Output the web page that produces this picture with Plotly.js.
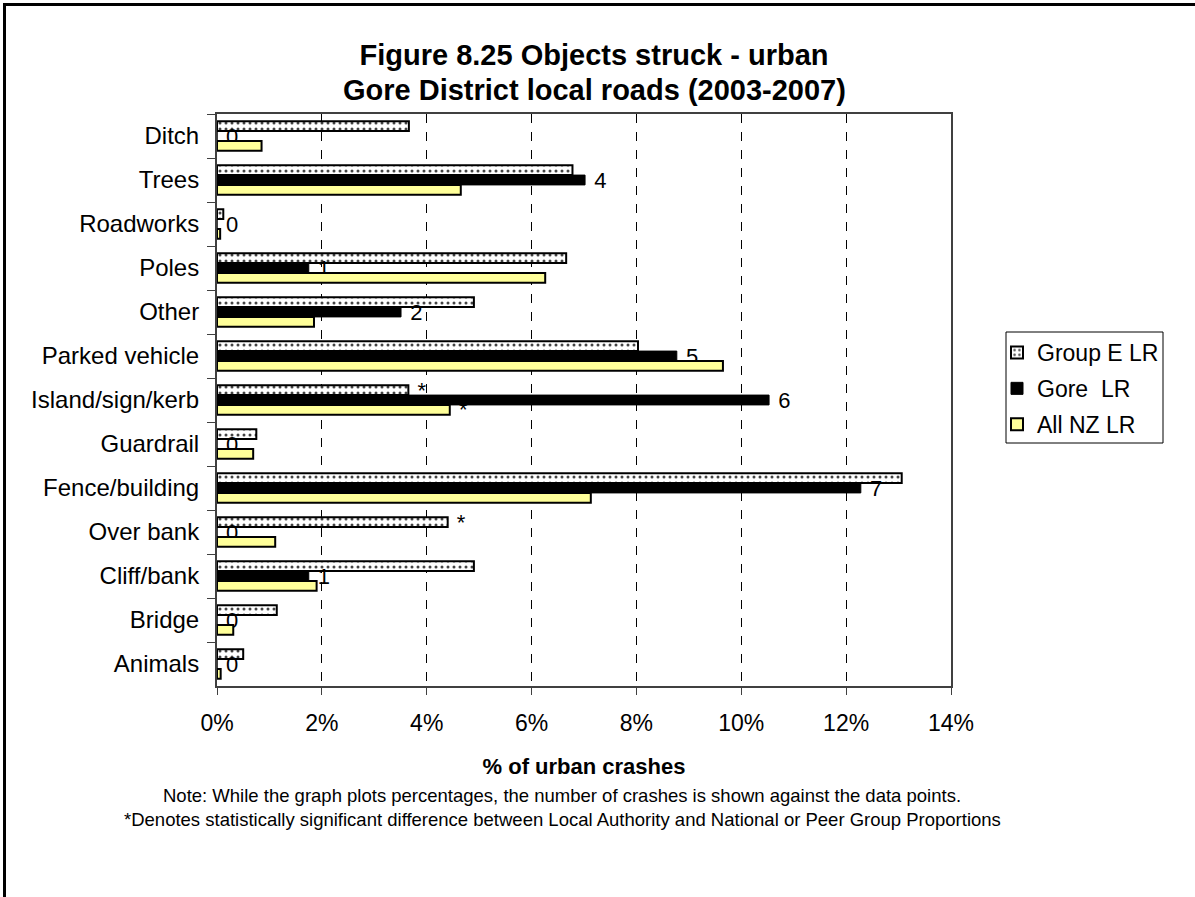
<!DOCTYPE html>
<html>
<head>
<meta charset="utf-8">
<script src="https://cdn.plot.ly/plotly-3.0.1.min.js"></script>
<style>
  html, body { margin: 0; padding: 0; background: #ffffff; }
  #chart { width: 1195px; height: 897px; }
</style>
</head>
<body>
<div id="chart"></div>
<script>
// ---- data ----
const categories = ['Ditch', 'Trees', 'Roadworks', 'Poles', 'Other', 'Parked vehicle',
  'Island/sign/kerb', 'Guardrail', 'Fence/building', 'Over bank', 'Cliff/bank', 'Bridge', 'Animals'];
const groupE = [3.66, 6.78, 0.12, 6.66, 4.90, 8.03, 3.65, 0.75, 13.06, 4.40, 4.90, 1.14, 0.50];
const gore   = [0, 7.02, 0, 1.75, 3.51, 8.77, 10.53, 0, 12.28, 0, 1.75, 0, 0];
const allNZ  = [0.85, 4.65, 0.06, 6.26, 1.85, 9.65, 4.44, 0.69, 7.13, 1.11, 1.90, 0.31, 0.07];
const goreCounts = [0, 4, 0, 1, 2, 5, 6, 0, 7, 0, 1, 0, 0];
const groupESig  = ['', '', '', '', '', '', '*', '', '', '*', '', '', ''];
const allNZSig   = ['', '', '', '', '', '', '*', '', '', '', '', '', ''];
const seriesNames = ['Group E LR', 'Gore\u00a0 LR', 'All NZ LR'];
const xTicks = [0, 2, 4, 6, 8, 10, 12, 14];
const titleLines = ['Figure 8.25 Objects struck - urban', 'Gore District local roads (2003-2007)'];
const xTitle = '% of urban crashes';
const notes = [
  'Note: While the graph plots percentages, the number of crashes is shown against the data points.',
  '*Denotes statistically significant difference between Local Authority and National or Peer Group Proportions'
];

const FONT = 'Liberation Sans, Arial, Helvetica, sans-serif';
const NB = '\u00a0';

const common = {
  type: 'bar', orientation: 'h', y: categories,
  textposition: 'outside', constraintext: 'none', cliponaxis: false,
  textfont: { family: FONT, size: 22, color: '#000' },
  hoverinfo: 'x+y+name'
};

const traces = [
  Object.assign({}, common, {
    name: seriesNames[0], legendgroup: 'g1', x: groupE,
    text: groupESig, texttemplate: NB + '%{text}',
    marker: {
      color: '#ffffff',
      line: { color: '#000000', width: 2 },
      pattern: { shape: '.', fgcolor: '#444444', bgcolor: '#ffffff', size: 6, solidity: 0.2, fillmode: 'replace' }
    }
  }),
  Object.assign({}, common, {
    name: seriesNames[1], legendgroup: 'g2', x: gore,
    text: goreCounts.map(String), texttemplate: NB + '%{text}',
    marker: { color: '#000000', line: { color: '#000000', width: 1 } }
  }),
  Object.assign({}, common, {
    name: seriesNames[2], legendgroup: 'g3', x: allNZ,
    text: allNZSig, texttemplate: NB + '%{text}',
    marker: { color: '#FFFF99', line: { color: '#000000', width: 2 } }
  })
];

// plot area in pixels (from reference)
const L = 217, R = 951, T = 114, B = 686, W = 1195, H = 897;
const px2x = p => (p - L) / (R - L);
const px2y = p => (B - p) / (B - T);

const annotations = [
  {
    text: '<b>' + titleLines[1] + '</b>', xref: 'paper', yref: 'paper',
    x: px2x(594), y: px2y(90), xanchor: 'center', yanchor: 'middle', showarrow: false,
    font: { family: FONT, size: 29, color: '#000' }
  }
].concat(notes.map((t, i) => ({
  text: t, xref: 'paper', yref: 'paper',
  x: px2x(562), y: px2y(795 + 24 * i), xanchor: 'center', yanchor: 'middle',
  showarrow: false, font: { family: FONT, size: 18.5, color: '#000' }
})));

const layout = {
  width: W, height: H,
  margin: { l: L, r: W - R, t: T, b: H - B, pad: 0 },
  paper_bgcolor: '#ffffff', plot_bgcolor: '#ffffff',
  font: { family: FONT, size: 22, color: '#000000' },
  title: {
    text: titleLines[0],
    font: { family: FONT, size: 29, weight: 'bold', color: '#000' },
    x: 594 / W, xanchor: 'center',
    y: 1 - 55 / H, yanchor: 'middle'
  },
  barmode: 'group', bargap: 0.33, bargroupgap: 0,
  showlegend: true,
  legend: {
    x: px2x(997), xanchor: 'left', y: px2y(331), yanchor: 'top',
    borderwidth: 0, bgcolor: 'rgba(0,0,0,0)',
    font: { family: FONT, size: 23, color: '#000' },
    traceorder: 'grouped', tracegroupgap: 3
  },
  xaxis: {
    range: [0, 14], tickvals: xTicks, ticktext: xTicks.map(v => v + '%'),
    ticks: 'outside', ticklen: 7, tickcolor: '#404040', tickwidth: 1,
    ticklabelstandoff: 8,
    tickfont: { family: FONT, size: 23, color: '#000' },
    showgrid: true, gridcolor: '#000000', gridwidth: 1, griddash: 'dash',
    zeroline: false,
    showline: true, linecolor: '#404040', linewidth: 2, mirror: true,
    title: { text: xTitle, font: { family: FONT, size: 22, weight: 'bold', color: '#000' }, standoff: 24 },
    fixedrange: true
  },
  yaxis: {
    type: 'category', autorange: 'reversed',
    ticks: 'outside', tickson: 'boundaries', ticklen: 8, tickcolor: '#404040', tickwidth: 1,
    ticklabelstandoff: 11,
    tickfont: { family: FONT, size: 24, color: '#000' },
    showgrid: false, zeroline: false,
    showline: true, linecolor: '#404040', linewidth: 2, mirror: true,
    fixedrange: true
  },
  annotations: annotations,
  shapes: [
    {
      type: 'rect', xref: 'paper', yref: 'paper',
      x0: px2x(4.5), x1: px2x(1260), y0: px2y(960), y1: px2y(4.5),
      line: { color: '#000000', width: 3 }, fillcolor: 'rgba(0,0,0,0)', layer: 'above'
    },
    {
      type: 'rect', xref: 'paper', yref: 'paper',
      x0: px2x(1006), x1: px2x(1163), y0: px2y(443), y1: px2y(332),
      line: { color: '#000000', width: 1 }, fillcolor: 'rgba(0,0,0,0)', layer: 'below'
    }
  ]
};

Plotly.newPlot('chart', traces, layout, { displayModeBar: false, staticPlot: true });
</script>
</body>
</html>
